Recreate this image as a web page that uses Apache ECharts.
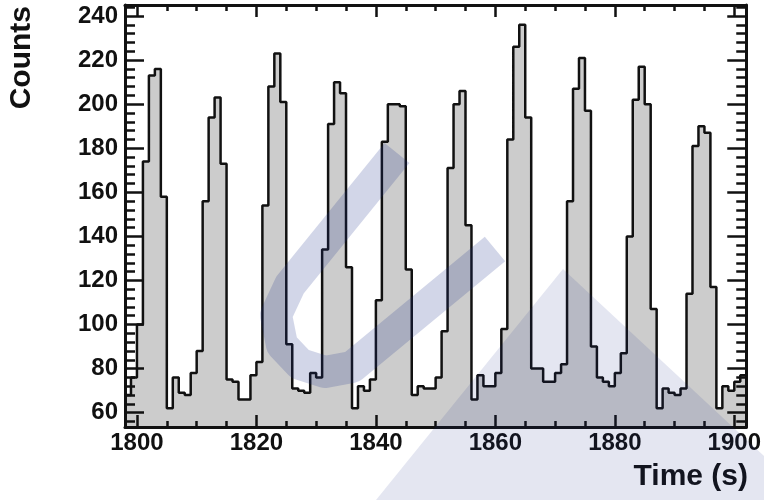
<!DOCTYPE html>
<html>
<head>
<meta charset="utf-8">
<title>Counts vs time</title>
<script src="https://cdn.jsdelivr.net/npm/echarts@6/dist/echarts.min.js"></script>
<style>
  html, body { margin: 0; padding: 0; background: #fff; }
  #chart { width: 764px; height: 500px; }
</style>
</head>
<body>
<div id="chart"></div>
<script>
// 1 s bins, first bin starts at 1798 s
const binStart = 1798;
const binWidth = 1;
const counts = [
  68, 76,
  100, 174, 213, 216, 158, 62, 76, 69, 68, 78,
  88, 156, 194, 203, 173, 75, 74, 66, 66, 77,
  83, 154, 208, 223, 201, 91, 71, 70, 69, 78,
  76, 134, 191, 210, 205, 126, 62, 72, 70, 75,
  111, 183, 200, 200, 199, 125, 68, 72, 71, 71,
  76, 97, 171, 200, 206, 145, 66, 77, 72, 72,
  78, 98, 184, 226, 236, 194, 80, 80, 74, 74,
  78, 82, 156, 207, 221, 197, 90, 76, 74, 72,
  78, 87, 140, 202, 217, 200, 107, 62, 71, 69,
  68, 71, 114, 181, 190, 187, 117, 62, 72, 70,
  74, 77
];

const xLabels = [1800, 1820, 1840, 1860, 1880, 1900];
const yLabels = [60, 80, 100, 120, 140, 160, 180, 200, 220, 240];

const xMin = 1798, xMax = 1902;
const yMin = 53.5, yMax = 245;

// minor ticks: every 5 s on x, every 4 counts on y
const xMinor = [];
for (let v = 1800; v <= 1900; v += 5) xMinor.push(v);
const yMinor = [];
for (let v = 56; v <= 244; v += 4) yMinor.push(v);

// step points at the bin edges, plus the closing edge
const points = counts.map((c, i) => [binStart + i * binWidth, c]);
points.push([binStart + counts.length * binWidth, counts[counts.length - 1]]);

const font = 'Liberation Sans, Arial, Helvetica, sans-serif';
const ink = '#111';
const mark = 'rgba(30,50,140,0.2)';   // faint logo in the background

function xAxisDef(pos, ticks, len, showLine, showLabel) {
  return {
    type: 'value', position: pos, min: xMin, max: xMax, z: 5,
    axisLine: { show: showLine, onZero: false, lineStyle: { color: ink, width: 3 } },
    axisTick: { show: true, inside: true, length: len, customValues: ticks,
                lineStyle: { color: ink, width: 2.5 } },
    axisLabel: { show: showLabel, customValues: xLabels, margin: 4,
                 formatter: v => String(v),
                 color: ink, fontSize: 24, fontWeight: 'bold', fontFamily: font },
    splitLine: { show: false }
  };
}

function yAxisDef(pos, ticks, len, showLine, showLabel) {
  return {
    type: 'value', position: pos, min: yMin, max: yMax, z: 5,
    axisLine: { show: showLine, onZero: false, lineStyle: { color: ink, width: 3 } },
    axisTick: { show: true, inside: true, length: len, customValues: ticks,
                lineStyle: { color: ink, width: 2.5 } },
    axisLabel: { show: showLabel, customValues: yLabels, margin: 7,
                 formatter: v => String(v),
                 color: ink, fontSize: 24, fontWeight: 'bold', fontFamily: font },
    splitLine: { show: false }
  };
}

const chart = echarts.init(document.getElementById('chart'));

const option = {
  animation: false,
  backgroundColor: '#fff',
  grid: { left: 125, right: 16, top: 5, bottom: 73 },
  xAxis: [
    xAxisDef('bottom', xLabels, 12, true, true),
    xAxisDef('bottom', xMinor, 6, false, false),
    xAxisDef('top', xLabels, 12, true, false),
    xAxisDef('top', xMinor, 6, false, false)
  ],
  yAxis: [
    yAxisDef('left', yLabels, 19, true, true),
    yAxisDef('left', yMinor, 10, false, false),
    yAxisDef('right', yLabels, 19, true, false),
    yAxisDef('right', yMinor, 10, false, false)
  ],
  graphic: [
    {
      type: 'text', x: 748, y: 477,
      style: { text: 'Time (s)', align: 'right', verticalAlign: 'middle',
               fill: ink, fontSize: 30, fontWeight: 'bold', fontFamily: font }
    },
    {
      type: 'text', x: 22, y: 6, rotation: Math.PI / 2,
      style: { text: 'Counts', align: 'right', verticalAlign: 'middle',
               fill: ink, fontSize: 30, fontWeight: 'bold', fontFamily: font }
    },
    // rough watermark
    {
      type: 'polyline', z: 100, silent: true,
      shape: { points: [[397, 153], [290, 285], [276, 315], [282, 345], [300, 364],
                        [325, 372], [352, 367], [495, 249]] },
      style: { fill: null, stroke: mark, lineWidth: 32, lineJoin: 'round' }
    },
    {
      type: 'polygon', z: 100, silent: true,
      shape: { points: [[563, 269], [764, 456], [764, 500], [376, 500]] },
      style: { fill: 'rgba(30,50,140,0.12)' }
    }
  ],
  series: [
    {
      type: 'line',
      step: 'end',
      xAxisIndex: 0,
      yAxisIndex: 0,
      data: points,
      symbol: 'none',
      lineStyle: { color: ink, width: 2.5 },
      areaStyle: { color: '#cccccc', opacity: 1, origin: 'start' }
    }
  ]
};

chart.setOption(option);
</script>
</body>
</html>
